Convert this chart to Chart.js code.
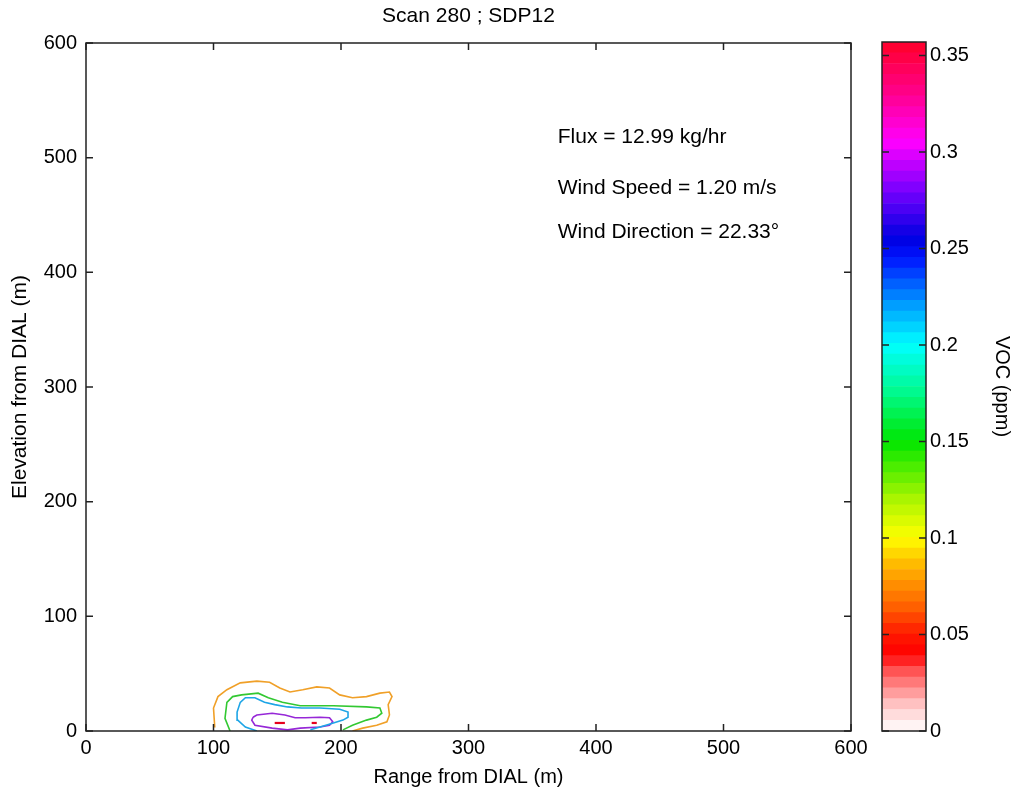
<!DOCTYPE html>
<html>
<head>
<meta charset="utf-8">
<script src="https://cdn.jsdelivr.net/npm/chart.js@4"></script>
<style>
  body { margin: 0; background: #fff; }
  #wrap { position: relative; width: 1016px; height: 794px; }
  #main { position: absolute; left: 0; top: 0; }
  #cbar { position: absolute; left: 870px; top: 0; }
</style>
</head>
<body>
<div id="wrap">
  <canvas id="main" width="937" height="794" style="width:937px;height:794px"></canvas>
  <canvas id="cbar" width="146" height="794" style="width:146px;height:794px"></canvas>
</div>
<script>
// axis ranges / ticks
const xTicks = [0, 100, 200, 300, 400, 500, 600];
const yTicks = [0, 100, 200, 300, 400, 500, 600];
const cbarTicks = [0, 0.05, 0.1, 0.15, 0.2, 0.25, 0.3, 0.35];
const cbarMax = 0.357;
const nBands = 64;

// contour lines (range m, elevation m)
const contour007 = [[101,3],[100,20],[103.5,30],[110.5,36],[121,42],[134,43.5],[144,42.5],[152,37.5],[160,34],[170,36],[181,38.5],[191,37.5],[199,31.5],[209,29],[220,30],[230.5,33],[238,34],[240,30],[237,23],[238,14],[236,8],[228,5],[217,2.5],[209,0]];
const contour014 = [[113,0],[109,11],[110.5,25],[115,30],[122,31.5],[135,33],[143,29],[154,25],[168,22],[194,22],[220,21],[230.5,20],[232,15.5],[228,12],[220,9.5],[209,5],[201.5,1]];
const contour021 = [[134,0],[125,3.5],[119,9.5],[118.5,16.5],[121,25],[125,29],[132.5,29],[140,25],[148,23],[158,21],[169,20],[183.5,20],[199,19],[205.5,16.5],[205.5,12],[201.5,9.5],[194,7],[183.5,3.5],[176,1]];
const contour028 = [[131,12],[134,14],[146,15.5],[156,14],[164,11.5],[172,11.5],[183.5,12],[191,11.5],[193.5,8],[191,5],[183.5,3.5],[168,2.5],[158,1],[146,2.5],[132.5,5],[130,9.5],[131,12]];
const contour035a = [[148,7],[156,7]];
const contour035b = [[177,7],[181,7]];

const titleText = 'Scan 280 ; SDP12';
const annotations = ['Flux = 12.99 kg/hr', 'Wind Speed = 1.20 m/s', 'Wind Direction = 22.33\u00B0'];
const annX = 370;
const annY = [518, 473.5, 435.2];

// colormap anchors (value, r, g, b)
const cmap = [
  [0, 255,255,255], [0.012, 255,205,205], [0.03, 255,90,90], [0.04, 255,0,0],
  [0.05, 255,25,0], [0.065, 255,100,0], [0.085, 255,180,0], [0.1, 255,255,0],
  [0.12, 170,245,0], [0.15, 0,230,0], [0.175, 0,250,140], [0.2, 0,255,255],
  [0.22, 0,160,255], [0.245, 0,20,255], [0.255, 0,0,225], [0.28, 120,0,255],
  [0.305, 255,0,255], [0.33, 255,0,140], [0.357, 255,0,40]
];
function cmapColor(v) {
  for (let i = 1; i < cmap.length; i++) {
    if (v <= cmap[i][0]) {
      const a = cmap[i-1], b = cmap[i];
      const t = (v - a[0]) / (b[0] - a[0]);
      const c = [1,2,3].map(k => Math.round(a[k] + (b[k]-a[k]) * t));
      return `rgb(${c[0]},${c[1]},${c[2]})`;
    }
  }
  const l = cmap[cmap.length-1];
  return `rgb(${l[1]},${l[2]},${l[3]})`;
}

const FONT = "'Liberation Sans', Arial, sans-serif";
Chart.defaults.font.family = FONT;
Chart.defaults.font.size = 20;
Chart.defaults.color = '#000';
Chart.defaults.animation = false;

// box + inward tick marks, matlab style
const matlabAxes = {
  id: 'matlabAxes',
  afterDatasetsDraw(chart, args, opts) {
    const {ctx, chartArea: a} = chart;
    ctx.save();
    ctx.strokeStyle = '#222';
    ctx.lineWidth = 1.5;
    ctx.beginPath();
    const tl = opts.tickLen || 7;
    (opts.x ? chart.scales.x.ticks : []).forEach(t => {
      const px = chart.scales.x.getPixelForValue(t.value);
      ctx.moveTo(px, a.bottom); ctx.lineTo(px, a.bottom - tl);
      ctx.moveTo(px, a.top); ctx.lineTo(px, a.top + tl);
    });
    chart.scales.y.ticks.forEach(t => {
      const py = chart.scales.y.getPixelForValue(t.value);
      ctx.moveTo(a.left, py); ctx.lineTo(a.left + tl, py);
      ctx.moveTo(a.right, py); ctx.lineTo(a.right - tl, py);
    });
    ctx.stroke();
    ctx.strokeRect(a.left, a.top, a.right - a.left, a.bottom - a.top);
    ctx.fillStyle = '#000';
    ctx.font = '21px ' + FONT;
    ctx.textBaseline = 'middle';
    if (opts.title) {
      ctx.textAlign = 'center';
      ctx.fillText(opts.title, (a.left + a.right) / 2, a.top - 27);
    }
    if (opts.text) {
      ctx.textAlign = 'left';
      opts.text.forEach((s, i) => {
        ctx.fillText(s, chart.scales.x.getPixelForValue(annX), chart.scales.y.getPixelForValue(annY[i]));
      });
    }
    ctx.restore();
  }
};

const toXY = pts => pts.map(([x, y]) => ({x, y}));
const line = (pts, color, w) => ({
  data: toXY(pts), showLine: true, borderColor: color, borderWidth: w || 1.6,
  pointRadius: 0, tension: 0, fill: false
});

new Chart(document.getElementById('main'), {
  type: 'scatter',
  data: {
    datasets: [
      line(contour007, 'rgb(240,160,40)'),
      line(contour014, 'rgb(50,200,50)'),
      line(contour021, 'rgb(30,165,230)'),
      line(contour028, 'rgb(150,40,215)'),
      line(contour035a, 'rgb(230,0,30)', 2.2),
      line(contour035b, 'rgb(230,0,30)', 2.2)
    ]
  },
  options: {
    responsive: false,
    layout: { padding: { left: 0, right: 86, top: 43, bottom: 0 } },
    plugins: {
      legend: { display: false },
      tooltip: { enabled: false },
      matlabAxes: { x: true, tickLen: 7, text: annotations, title: titleText }
    },
    scales: {
      x: {
        type: 'linear', min: 0, max: 600,
        afterBuildTicks: s => { s.ticks = xTicks.map(v => ({value: v})); },
        grid: { display: false, drawTicks: false },
        border: { display: false },
        ticks: { padding: 5, maxRotation: 0 },
        title: { display: true, text: 'Range from DIAL (m)', padding: { top: 0, bottom: 5 } },
        afterFit: s => { s.height = 63; }
      },
      y: {
        type: 'linear', min: 0, max: 600,
        afterBuildTicks: s => { s.ticks = yTicks.map(v => ({value: v})); },
        grid: { display: false, drawTicks: false },
        border: { display: false },
        ticks: { padding: 9 },
        title: { display: true, text: 'Elevation from DIAL (m)', font: { size: 21 }, padding: { top: 8, bottom: 0 } },
        afterFit: s => { s.width = 86; }
      }
    }
  },
  plugins: [matlabAxes]
});

// colorbar: stacked bands
const bandSize = cbarMax / nBands;
const bands = [];
for (let i = 0; i < nBands; i++) {
  bands.push({
    data: [bandSize],
    backgroundColor: cmapColor((i + 0.5) * bandSize),
    borderWidth: 0, barPercentage: 1, categoryPercentage: 1
  });
}

new Chart(document.getElementById('cbar'), {
  type: 'bar',
  data: { labels: [''], datasets: bands },
  options: {
    responsive: false,
    layout: { padding: { left: 12, right: 0, top: 42, bottom: 63 } },
    plugins: {
      legend: { display: false },
      tooltip: { enabled: false },
      matlabAxes: { x: false, tickLen: 7 }
    },
    scales: {
      x: { stacked: true, display: false },
      y: {
        stacked: true, position: 'right', min: 0, max: cbarMax,
        afterBuildTicks: s => { s.ticks = cbarTicks.map(v => ({value: v})); },
        grid: { display: false, drawTicks: false },
        border: { display: false },
        ticks: { padding: 4, callback: v => String(+v.toFixed(2)) },
        title: { display: true, text: 'VOC (ppm)', padding: { top: 2, bottom: 0 } },
        afterFit: s => { s.width = 90; }
      }
    }
  },
  plugins: [matlabAxes]
});
</script>
</body>
</html>
